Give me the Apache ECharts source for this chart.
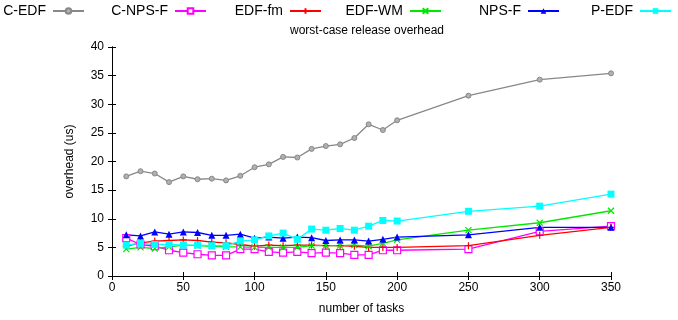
<!DOCTYPE html>
<html>
<head>
<meta charset="utf-8">
<script src="https://cdn.jsdelivr.net/npm/echarts@6/dist/echarts.min.js"></script>
<style>
  html, body { margin: 0; padding: 0; background: #fff; }
  #chart { width: 678px; height: 320px; }
</style>
</head>
<body>
<div id="chart"></div>
<script>
// number of tasks
const tasks = [10, 20, 30, 40, 50, 60, 70, 80, 90, 100, 110, 120, 130, 140, 150, 160, 170, 180, 190, 200, 250, 300, 350];

// worst-case release overhead (us)
const cEdf = [17.4, 18.3, 17.9, 16.4, 17.4, 16.9, 17.0, 16.7, 17.5, 19.0, 19.5, 20.8, 20.7, 22.2, 22.7, 23.0, 24.1, 26.5, 25.5, 27.2, 31.5, 34.3, 35.4];
const cNpsF = [6.6, 5.5, 5.2, 4.5, 4.1, 3.8, 3.6, 3.6, 4.7, 4.7, 4.2, 4.1, 4.2, 4.0, 4.1, 4.0, 3.7, 3.7, 4.5, 4.5, 4.7, 7.8, 8.7];
const edfFm = [5.2, 5.8, 6.1, 6.2, 6.3, 6.2, 5.9, 5.8, 5.5, 5.2, 5.4, 5.3, 5.4, 5.4, 5.3, 5.3, 5.2, 5.0, 5.0, 5.0, 5.3, 7.1, 8.5];
const edfWm = [4.7, 5.0, 4.8, 5.1, 5.4, 5.3, 5.2, 5.1, 5.1, 5.0, 5.0, 5.0, 5.0, 5.3, 5.3, 5.3, 5.4, 5.2, 5.7, 6.3, 8.0, 9.3, 11.4];
const npsF = [7.2, 7.0, 7.7, 7.3, 7.7, 7.6, 7.1, 7.1, 7.3, 6.6, 6.8, 6.6, 6.8, 6.7, 6.2, 6.3, 6.3, 6.1, 6.4, 6.8, 7.2, 8.5, 8.5];
const pEdf = [5.4, 5.7, 5.5, 5.5, 5.4, 5.4, 5.3, 5.3, 6.1, 6.3, 7.0, 7.5, 6.4, 8.2, 8.0, 8.3, 8.0, 8.7, 9.7, 9.6, 11.3, 12.2, 14.3];

const xTicks = [0, 50, 100, 150, 200, 250, 300, 350];
const yTicks = [0, 5, 10, 15, 20, 25, 30, 35, 40];

const FONT = "Liberation Sans, Arial, sans-serif";
const PLUS = "path://M0,5L10,5M5,0L5,10";
const CROSS = "path://M0,0L10,10M10,0L0,10";

const seriesDefs = [
  { name: "C-EDF", data: cEdf, color: "#888888", symbol: "circle", size: 5, fill: "#b0b0b0", bw: 1 },
  { name: "C-NPS-F", data: cNpsF, color: "#ff00ff", symbol: "rect", size: 7, fill: "#ffffff", bw: 1.2 },
  { name: "EDF-fm", data: edfFm, color: "#ff0000", symbol: PLUS, size: 7, fill: "#ff0000", bw: 1.2 },
  { name: "EDF-WM", data: edfWm, color: "#00e800", symbol: CROSS, size: 6, fill: "#00e800", bw: 1.2 },
  { name: "NPS-F", data: npsF, color: "#0000ff", symbol: "triangle", size: 7, fill: "#0000ff", bw: 0 },
  { name: "P-EDF", data: pEdf, color: "#00ffff", symbol: "rect", size: 7, fill: "#00ffff", bw: 0 },
];

// right edge of each legend sample line
const legendEnds = [85, 207, 322, 442, 560, 672];

const chart = echarts.init(document.getElementById("chart"), null, { renderer: "canvas" });

const axisLine = { show: true, lineStyle: { color: "#000", width: 1 } };
const tickIn = { show: true, inside: true, length: 4, lineStyle: { color: "#000" } };

chart.setOption({
  animation: false,
  backgroundColor: "#fff",
  textStyle: { fontFamily: FONT },
  title: {
    text: "worst-case release overhead",
    left: 362,
    top: 20,
    textAlign: "center",
    textStyle: { fontSize: 12, fontWeight: "normal", color: "#000", fontFamily: FONT },
  },
  legend: seriesDefs.map((s, i) => ({
    data: [s.name],
    right: 678 - legendEnds[i],
    top: 4,
    align: "right",
    itemWidth: 31,
    itemHeight: 7,
    padding: 0,
    textStyle: { fontSize: 14, color: "#000", fontFamily: FONT, padding: [0, 2, 0, 0] },
  })),
  grid: { left: 112, right: 67, top: 47, bottom: 44 },
  xAxis: [
    {
      type: "value",
      min: 0,
      max: 350,
      interval: 50,
      name: "number of tasks",
      nameLocation: "middle",
      nameGap: 27,
      nameTextStyle: { fontSize: 12, color: "#000" },
      axisLine,
      axisTick: tickIn,
      axisLabel: {
        fontSize: 12,
        color: "#000",
        margin: 6,
        formatter: (v) => (xTicks.includes(v) ? String(v) : ""),
      },
      splitLine: { show: false },
    },
    {
      type: "value",
      position: "top",
      min: 0,
      max: 350,
      interval: 50,
      axisLine,
      axisTick: tickIn,
      axisLabel: { show: false },
      splitLine: { show: false },
    },
  ],
  yAxis: [
    {
      type: "value",
      min: 0,
      max: 40,
      interval: 5,
      name: "overhead (us)",
      nameLocation: "middle",
      nameGap: 36,
      nameTextStyle: { fontSize: 12, color: "#000" },
      axisLine,
      axisTick: tickIn,
      axisLabel: {
        fontSize: 12,
        color: "#000",
        margin: 8,
        formatter: (v) => (yTicks.includes(v) ? String(v) : ""),
      },
      splitLine: { show: false },
    },
    {
      type: "value",
      position: "right",
      min: 0,
      max: 40,
      interval: 5,
      axisLine,
      axisTick: tickIn,
      axisLabel: { show: false },
      splitLine: { show: false },
    },
  ],
  series: seriesDefs.map((s) => ({
    name: s.name,
    type: "line",
    xAxisIndex: 0,
    yAxisIndex: 0,
    data: tasks.map((t, i) => [t, s.data[i]]),
    symbol: s.symbol,
    symbolSize: s.size,
    showAllSymbol: true,
    lineStyle: { color: s.color, width: 1.3 },
    itemStyle: { color: s.fill, borderColor: s.color, borderWidth: s.bw },
    emphasis: { disabled: true },
  })),
});
</script>
</body>
</html>
